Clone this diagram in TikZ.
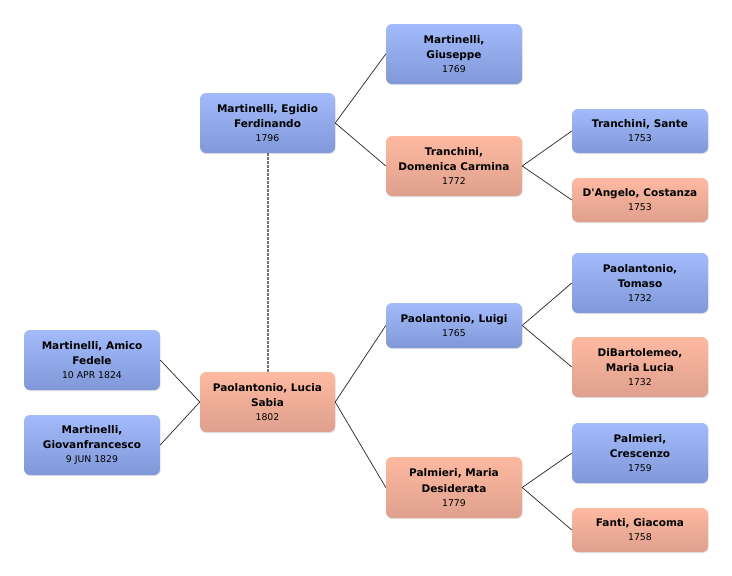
\documentclass[tikz,border=0pt]{standalone}
\usepackage{fontspec}
\setmainfont{DejaVu Sans}[Ligatures=TeXOff]
\usetikzlibrary{shadows}
\definecolor{mtop}{HTML}{A3BBFA}
\definecolor{mbot}{HTML}{8198D8}
\definecolor{ftop}{HTML}{FEB9A0}
\definecolor{fbot}{HTML}{DFA08E}
\tikzset{
  person/.style={draw=none, rounded corners=6pt, align=center, inner sep=0pt,
    minimum width=136pt, font=\fontsize{10.5}{15.5}\selectfont\bfseries,
    drop shadow={opacity=0.22, shadow xshift=0.6pt, shadow yshift=-1pt}},
  male/.style={person, top color=mtop, bottom color=mbot},
  female/.style={person, top color=ftop, bottom color=fbot},
  link/.style={draw=black!85, line width=0.7pt},
  spouse/.style={draw=black!55, line width=2pt, dash pattern=on 2.4pt off 1.6pt},
}
\newcommand{\yr}[1]{\\[-1.5pt]{\fontsize{9.3}{11}\selectfont\mdseries #1}}
\begin{document}
\begin{tikzpicture}[x=1pt,y=-1pt]
\useasboundingbox (0,0) rectangle (732,576);
\fill[white] (0,0) rectangle (732,576);
% generation 1
\node[male, minimum height=60pt] (amico) at (92,360) {Martinelli, Amico\\Fedele\yr{10 APR 1824}};
\node[male, minimum height=60pt] (giovan) at (92,445) {Martinelli,\\Giovanfrancesco\yr{9 JUN 1829}};
% generation 2
\node[female, minimum height=60pt, minimum width=135pt] (lucia) at (267.5,402) {Paolantonio, Lucia\\Sabia\yr{1802}};
\node[male, minimum height=60pt, minimum width=135pt] (egidio) at (267.5,123) {Martinelli, Egidio\\Ferdinando\yr{1796}};
% generation 3
\node[male, minimum height=60pt] (giuseppe) at (454,54) {Martinelli,\\Giuseppe\yr{1769}};
\node[female, minimum height=60pt] (domenica) at (454,166) {Tranchini,\\Domenica Carmina\yr{1772}};
\node[male, minimum height=45pt] (luigi) at (454,325.5) {Paolantonio, Luigi\yr{1765}};
\node[female, minimum height=61pt] (maria) at (454,487.5) {Palmieri, Maria\\Desiderata\yr{1779}};
% generation 4
\node[male, minimum height=44pt] (sante) at (640,131) {Tranchini, Sante\yr{1753}};
\node[female, minimum height=44pt] (costanza) at (640,200) {D'Angelo, Costanza\yr{1753}};
\node[male, minimum height=60pt] (tomaso) at (640,283) {Paolantonio,\\Tomaso\yr{1732}};
\node[female, minimum height=60pt] (dibart) at (640,367) {DiBartolemeo,\\Maria Lucia\yr{1732}};
\node[male, minimum height=60pt] (crescenzo) at (640,453) {Palmieri,\\Crescenzo\yr{1759}};
\node[female, minimum height=44pt] (fanti) at (640,530) {Fanti, Giacoma\yr{1758}};
% connectors
\draw[link] (amico.east) -- (lucia.west);
\draw[link] (giovan.east) -- (lucia.west);
\draw[spouse] (egidio.south) -- (lucia.north);
\draw[link] (egidio.east) -- (giuseppe.west);
\draw[link] (egidio.east) -- (domenica.west);
\draw[link] (lucia.east) -- (luigi.west);
\draw[link] (lucia.east) -- (maria.west);
\draw[link] (domenica.east) -- (sante.west);
\draw[link] (domenica.east) -- (costanza.west);
\draw[link] (luigi.east) -- (tomaso.west);
\draw[link] (luigi.east) -- (dibart.west);
\draw[link] (maria.east) -- (crescenzo.west);
\draw[link] (maria.east) -- (fanti.west);
\end{tikzpicture}
\end{document}
